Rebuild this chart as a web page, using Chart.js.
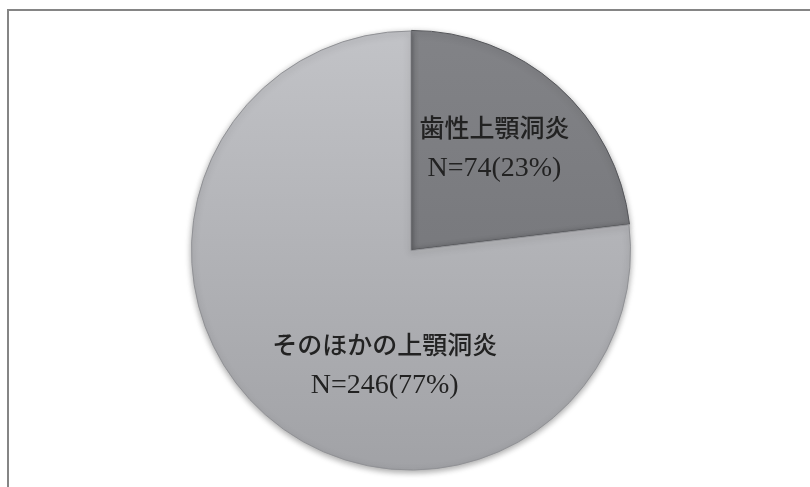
<!DOCTYPE html>
<html>
<head>
<meta charset="utf-8">
<script src="https://cdn.jsdelivr.net/npm/chart.js@4"></script>
<style>
  html, body { margin: 0; padding: 0; background: #fff; }
  #wrap { position: relative; width: 810px; height: 487px; }
</style>
</head>
<body>
<div id="wrap"><canvas id="pie" width="810" height="487"></canvas></div>
<script>
// data
const labels = ['歯性上顎洞炎', 'そのほかの上顎洞炎'];
const counts = [74, 246];
const percents = ['23%', '77%'];

// label anchor, as fraction of radius from pie centre
const labelAnchors = [[0.38, -0.47], [-0.12, 0.52]];

function sliceFill(ctx) {
    const chart = ctx.chart;
    const area = chart.chartArea;
    if (!area) return '#b5b6ba';
    const g = chart.ctx.createLinearGradient(0, area.top, 0, area.bottom);
    if (ctx.dataIndex === 0) {
        g.addColorStop(0, '#828387');
        g.addColorStop(1, '#6f7074');
    } else {
        g.addColorStop(0, '#c2c3c7');
        g.addColorStop(1, '#a1a2a6');
    }
    return g;
}

// frame lines (top + left) like the cropped figure box
const framePlugin = {
    id: 'frame',
    beforeDraw(chart) {
        const c = chart.ctx;
        c.save();
        c.strokeStyle = '#858585';
        c.lineWidth = 2;
        c.beginPath();
        c.moveTo(8, 487);
        c.lineTo(8, 10);
        c.lineTo(810, 10);
        c.stroke();
        c.restore();
    }
};

// soft shadow under the pie
const shadowPlugin = {
    id: 'shadow',
    beforeDatasetsDraw(chart) {
        const c = chart.ctx;
        c.save();
        c.shadowColor = 'rgba(0,0,0,0.35)';
        c.shadowBlur = 6;
        c.shadowOffsetY = 2;
    },
    afterDatasetsDraw(chart) {
        chart.ctx.restore();
    }
};

// two-line labels inside the slices
const sliceLabels = {
    id: 'sliceLabels',
    afterDatasetsDraw(chart) {
        const c = chart.ctx;
        const arcs = chart.getDatasetMeta(0).data;
        c.save();
        c.fillStyle = '#222';
        c.textAlign = 'center';
        c.textBaseline = 'middle';
        arcs.forEach((arc, i) => {
            const r = arc.outerRadius;
            const x = arc.x + labelAnchors[i][0] * r;
            const y = arc.y + labelAnchors[i][1] * r;
            c.font = '500 25px "Noto Sans CJK JP", sans-serif';
            c.fillText(labels[i], x, y - 20);
            c.font = '28px "Liberation Serif", serif';
            c.fillText(`N=${counts[i]}(${percents[i]})`, x, y + 21);
        });
        c.restore();
    }
};

new Chart(document.getElementById('pie'), {
    type: 'pie',
    data: {
        labels: labels,
        datasets: [{
            data: counts,
            backgroundColor: sliceFill,
            borderColor: ['#55565a', '#909195'],
            borderWidth: [1, 1],
            offset: [3, 0]
        }]
    },
    options: {
        responsive: false,
        animation: false,
        layout: { padding: { top: 29, bottom: 15, left: 12, right: 0 } },
        plugins: {
            legend: { display: false },
            tooltip: { enabled: false }
        }
    },
    plugins: [framePlugin, shadowPlugin, sliceLabels]
});
</script>
</body>
</html>
